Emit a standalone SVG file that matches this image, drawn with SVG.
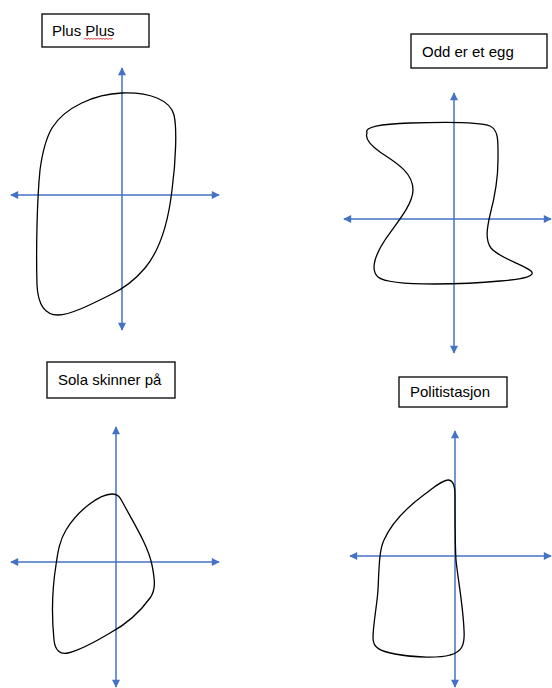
<svg xmlns="http://www.w3.org/2000/svg" width="552" height="688" viewBox="0 0 552 688">
<style>
.box{fill:#fff;stroke:#000;stroke-width:1.3}
.lbl{font-family:"Liberation Sans",Arial,sans-serif;font-size:15px;fill:#000}
.ax{stroke:#4472C4;stroke-width:1.5;fill:none;marker-start:url(#ah);marker-end:url(#ah)}
.shape{fill:none;stroke:#000;stroke-width:1.3}
</style>
<defs>
<marker id="ah" viewBox="0 0 10 10" refX="9" refY="5" markerWidth="9" markerHeight="8" markerUnits="userSpaceOnUse" orient="auto-start-reverse">
<path d="M0,0 L10,5 L0,10 Z" fill="#4472C4"/>
</marker>
</defs>
<rect width="552" height="688" fill="#fff"/>

<g id="panel-plus-plus">
<rect class="box" x="42" y="14" width="107" height="33"/>
<text class="lbl" x="52" y="36">Plus Plus</text>
<path d="M84,39.5 l1.5,-1.5 l1.5,1.5 l1.5,-1.5 l1.5,1.5 l1.5,-1.5 l1.5,1.5 l1.5,-1.5 l1.5,1.5 l1.5,-1.5 l1.5,1.5 l1.5,-1.5 l1.5,1.5 l1.5,-1.5 l1.5,1.5 l1.5,-1.5 l1.5,1.5 l1.5,-1.5 l1.5,1.5 l1.5,-1.5" fill="none" stroke="#e02020" stroke-width="1"/>
<line class="ax" x1="122" y1="330" x2="122" y2="68"/>
<line class="ax" x1="219" y1="195" x2="11" y2="195"/>
<path class="shape" d="M122,93 C150,92 170,100 174,115 C177,128 176,160 172,190 C168,225 160,250 145,268 C135,280 125,288 110,295 C90,305 70,315 58,315 C45,315 38,305 37,285 C36,250 37,200 40,170 C42,155 45,140 52,128 C65,107 95,94 122,93 Z"/>
</g>

<g id="panel-odd-er-et-egg">
<rect class="box" x="411" y="34" width="136" height="34"/>
<text class="lbl" x="422" y="57">Odd er et egg</text>
<line class="ax" x1="454" y1="353" x2="454" y2="93"/>
<line class="ax" x1="551" y1="219" x2="344" y2="219"/>
<path class="shape" d="M367,133 C364,127 380,124 410,123 C440,122 480,122 490,126 C499,130 498,142 498,160 C498,180 494,200 490,215 C487,228 485,240 491,248 C499,258 522,264 531,271 C536,276 525,279 500,281 C480,283 455,284 435,284 C410,284 385,283 378,277 C370,270 375,255 385,240 C395,225 413,205 413,190 C413,172 395,162 380,152 C370,145 365,138 367,133 Z"/>
</g>

<g id="panel-sola-skinner-pa">
<rect class="box" x="47" y="362" width="128" height="36"/>
<text class="lbl" x="58" y="385">Sola skinner på</text>
<line class="ax" x1="116" y1="687" x2="116" y2="427"/>
<line class="ax" x1="219" y1="562" x2="11" y2="562"/>
<path class="shape" d="M112,494 C118,494 120,497 123,503 C133,522 148,545 152,565 C155,580 156,590 150,598 C140,612 125,625 110,633 C95,642 80,650 68,653 C60,655 55,650 54,640 C52,620 52,590 56,565 C58,550 60,540 66,530 C78,510 100,494 112,494 Z"/>
</g>

<g id="panel-politistasjon">
<rect class="box" x="399" y="377" width="108" height="30"/>
<text class="lbl" x="410" y="397">Politistasjon</text>
<line class="ax" x1="455" y1="687" x2="455" y2="431"/>
<line class="ax" x1="551" y1="556" x2="350" y2="556"/>
<path class="shape" d="M448,480 C453,480 455,486 455,495 C455,520 455,545 456,560 C458,580 463,605 464,630 C465,645 462,652 450,655 C440,658 415,658 395,654 C380,651 373,648 373,638 C373,625 377,605 378,590 C379,570 379,550 384,540 C392,522 410,505 425,494 C433,488 442,480 448,480 Z"/>
</g>
</svg>
